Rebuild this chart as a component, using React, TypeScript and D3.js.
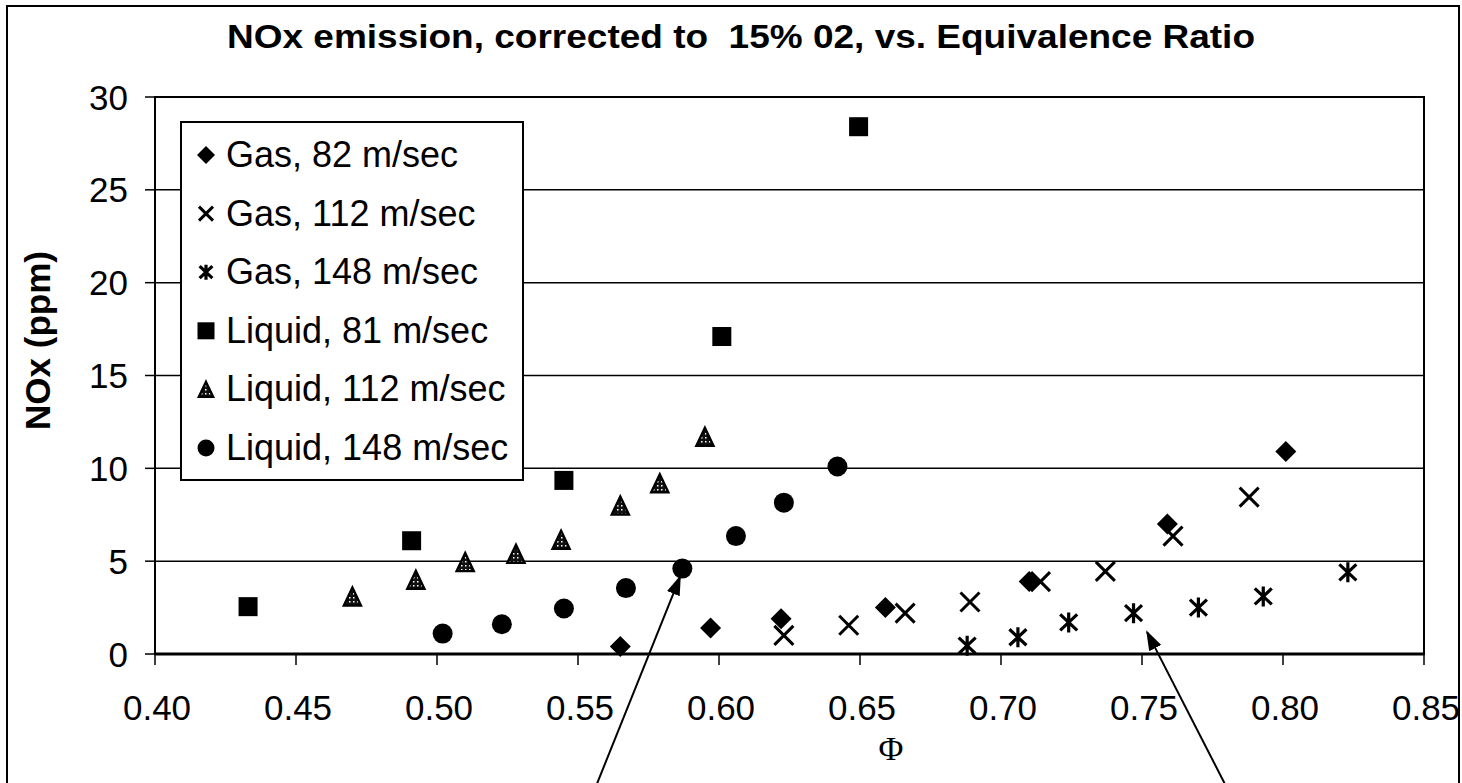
import React from 'react';
import * as d3 from 'd3';

// series: equivalence ratio (phi) and NOx ppm
const gas82X = [0.565, 0.597, 0.622, 0.659, 0.710, 0.759, 0.801];
const gas82Y = [0.4, 1.4, 1.9, 2.5, 3.9, 7.0, 10.9];
const gas112X = [0.623, 0.646, 0.666, 0.689, 0.714, 0.737, 0.761, 0.788];
const gas112Y = [1.0, 1.55, 2.2, 2.8, 3.9, 4.45, 6.35, 8.45];
const gas148X = [0.688, 0.706, 0.724, 0.747, 0.770, 0.793, 0.823];
const gas148Y = [0.45, 0.9, 1.7, 2.2, 2.5, 3.1, 4.4];
const liq81X = [0.433, 0.491, 0.545, 0.601, 0.6495];
const liq81Y = [2.55, 6.1, 9.35, 17.1, 28.4];
const liq112X = [0.470, 0.4925, 0.510, 0.528, 0.544, 0.565, 0.579, 0.595];
const liq112Y = [3.1, 4.0, 4.95, 5.4, 6.15, 8.0, 9.2, 11.7];
const liq148X = [0.502, 0.523, 0.545, 0.567, 0.587, 0.606, 0.623, 0.642];
const liq148Y = [1.1, 1.6, 2.45, 3.55, 4.6, 6.35, 8.15, 10.1];

const seriesNames = [
  'Gas, 82 m/sec',
  'Gas, 112 m/sec',
  'Gas, 148 m/sec',
  'Liquid, 81 m/sec',
  'Liquid, 112 m/sec',
  'Liquid, 148 m/sec',
];
const seriesMarkers = ['diamond', 'x', 'asterisk', 'square', 'triangle', 'circle'];

const xTicks = [0.40, 0.45, 0.50, 0.55, 0.60, 0.65, 0.70, 0.75, 0.80, 0.85];
const yTicks = [0, 5, 10, 15, 20, 25, 30];

// annotation arrows (from bottom of page up to a point), in data units
const arrowFrom = [[0.5567, -7.0], [0.7794, -7.0]];
const arrowTo = [[0.5862, 4.15], [0.7518, 1.18]];

const title = 'NOx emission, corrected to  15% 02, vs. Equivalence Ratio';

const W = 1462;
const H = 783;
const plot = { left: 155, right: 1424, top: 97, bottom: 654 };

const x = d3.scaleLinear().domain([0.4, 0.85]).range([plot.left, plot.right]);
const y = d3.scaleLinear().domain([0, 30]).range([plot.bottom, plot.top]);

function Marker({ type, cx, cy, s }: { type: string; cx: number; cy: number; s: number }) {
  const h = s / 2;
  switch (type) {
    case 'diamond':
      return <path d={`M${cx},${cy - h}L${cx + h},${cy}L${cx},${cy + h}L${cx - h},${cy}Z`} fill="#000" />;
    case 'square':
      return <rect x={cx - h} y={cy - h} width={s} height={s} fill="#000" />;
    case 'circle':
      return <circle cx={cx} cy={cy} r={h} fill="#000" />;
    case 'triangle':
      return (
        <path
          d={`M${cx},${cy - h}L${cx + h * 0.95},${cy + h}L${cx - h * 0.95},${cy + h}Z`}
          fill="url(#speckle)"
          stroke="#000"
          strokeWidth={2.4}
        />
      );
    case 'x':
      return (
        <path d={`M${cx - h},${cy - h}L${cx + h},${cy + h}M${cx + h},${cy - h}L${cx - h},${cy + h}`} stroke="#000" strokeWidth={3} />
      );
    case 'asterisk': {
      const k = h * 0.85;
      const v = h * 0.8;
      return (
        <path
          d={`M${cx},${cy - h}L${cx},${cy + h}M${cx - k},${cy - v}L${cx + k},${cy + v}M${cx + k},${cy - v}L${cx - k},${cy + v}`}
          stroke="#000"
          strokeWidth={3.2}
        />
      );
    }
    default:
      return null;
  }
}

const plotSize: Record<string, number> = { diamond: 21, x: 19, asterisk: 20, square: 19, triangle: 18, circle: 20 };
const legendSize: Record<string, number> = { diamond: 18, x: 14, asterisk: 15, square: 17, triangle: 15, circle: 17 };

export default function App() {
  const series = [
    { xs: gas82X, ys: gas82Y },
    { xs: gas112X, ys: gas112Y },
    { xs: gas148X, ys: gas148Y },
    { xs: liq81X, ys: liq81Y },
    { xs: liq112X, ys: liq112Y },
    { xs: liq148X, ys: liq148Y },
  ];
  const legendTop = 155;
  const legendStep = 58.6;

  return (
    <svg
      width={W}
      height={H}
      style={{ position: 'fixed', left: 0, top: 0, background: '#fff' }}
      fontFamily="'Liberation Sans', Arial, sans-serif"
    >
      <defs>
        <pattern id="speckle" width="4" height="4" patternUnits="userSpaceOnUse">
          <rect width="4" height="4" fill="#111" />
          <rect x="1" y="1" width="1.5" height="1.5" fill="#fff" />
        </pattern>
        <marker id="head" viewBox="0 0 10 10" refX="9" refY="5" markerWidth="10" markerHeight="10" orient="auto">
          <path d="M0,1.6L10,5L0,8.4Z" fill="#000" />
        </marker>
      </defs>

      <rect x={0} y={0} width={W} height={H} fill="#fff" />
      {/* outer chart frame */}
      <rect x={7} y={6} width={1452} height={820} fill="none" stroke="#000" strokeWidth={2} />

      <text
        x={227}
        y={48}
        fontSize={34}
        fontWeight="bold"
        textLength={1028}
        lengthAdjust="spacingAndGlyphs"
        style={{ whiteSpace: 'pre' }}
      >
        {title}
      </text>

      {/* gridlines */}
      {yTicks.filter(t => t > 0 && t < 30).map(t => (
        <line key={t} x1={plot.left} x2={plot.right} y1={y(t)} y2={y(t)} stroke="#000" strokeWidth={1.5} />
      ))}

      {/* plot frame */}
      <rect
        x={plot.left}
        y={plot.top}
        width={plot.right - plot.left}
        height={plot.bottom - plot.top}
        fill="none"
        stroke="#000"
        strokeWidth={2}
      />
      <line x1={plot.left} x2={plot.right} y1={y(0)} y2={y(0)} stroke="#000" strokeWidth={3} />

      {/* y axis ticks and labels */}
      {yTicks.map(t => (
        <g key={t}>
          <line x1={plot.left - 10} x2={plot.left} y1={y(t)} y2={y(t)} stroke="#000" strokeWidth={1.5} />
          <text x={128} y={y(t)} dy="0.36em" fontSize={35} textAnchor="end">
            {t}
          </text>
        </g>
      ))}

      {/* x axis ticks and labels */}
      {xTicks.map(t => (
        <g key={t}>
          <line x1={x(t)} x2={x(t)} y1={plot.bottom} y2={plot.bottom + 11} stroke="#000" strokeWidth={1.5} />
          <text x={x(t) + 2} y={720} fontSize={35} textAnchor="middle">
            {d3.format('.2f')(t)}
          </text>
        </g>
      ))}

      <text x={891} y={760} fontSize={34} textAnchor="middle" fontFamily="'Liberation Serif', 'DejaVu Serif', serif">
        Φ
      </text>
      <text
        transform={`translate(50,${(plot.top + plot.bottom) / 2 - 35}) rotate(-90)`}
        fontSize={35}
        fontWeight="bold"
        textAnchor="middle"
      >
        NOx (ppm)
      </text>

      {/* data points */}
      {series.map((s, i) =>
        s.xs.map((xv, j) => (
          <Marker key={`${i}-${j}`} type={seriesMarkers[i]} cx={x(xv)} cy={y(s.ys[j])} s={plotSize[seriesMarkers[i]]} />
        ))
      )}

      {/* legend */}
      <rect x={181} y={122} width={342} height={358} fill="#fff" stroke="#000" strokeWidth={2} />
      {seriesNames.map((name, i) => (
        <g key={name}>
          <Marker type={seriesMarkers[i]} cx={206} cy={legendTop + i * legendStep} s={legendSize[seriesMarkers[i]]} />
          <text x={226} y={legendTop + i * legendStep + 12} fontSize={36}>
            {name}
          </text>
        </g>
      ))}

      {/* annotation arrows */}
      {arrowFrom.map((f, i) => (
        <line
          key={i}
          x1={x(f[0])}
          y1={y(f[1])}
          x2={x(arrowTo[i][0])}
          y2={y(arrowTo[i][1])}
          stroke="#000"
          strokeWidth={2}
          markerEnd="url(#head)"
        />
      ))}
    </svg>
  );
}
